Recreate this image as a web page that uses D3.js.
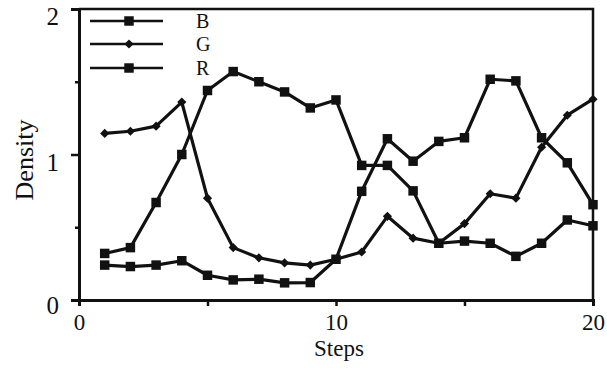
<!DOCTYPE html>
<html>
<head>
<meta charset="utf-8">
<script src="https://cdn.jsdelivr.net/npm/d3@7"></script>
<style>
  html, body { margin: 0; padding: 0; background: #fff; }
  svg { display: block; font-family: "Liberation Serif", "DejaVu Serif", serif; }
</style>
</head>
<body>
<svg width="607" height="368"></svg>
<script>
const steps = d3.range(1, 21);
const seriesB = [0.32, 0.36, 0.67, 1.0, 1.44, 1.57, 1.50, 1.43, 1.32, 1.375, 0.925, 0.925, 0.75, 0.39, 0.405, 0.39, 0.30, 0.39, 0.55, 0.51];
const seriesG = [1.145, 1.16, 1.195, 1.36, 0.70, 0.36, 0.29, 0.255, 0.24, 0.28, 0.33, 0.575, 0.425, 0.39, 0.525, 0.73, 0.70, 1.05, 1.27, 1.38];
const seriesR = [0.24, 0.23, 0.24, 0.27, 0.17, 0.138, 0.143, 0.118, 0.12, 0.28, 0.747, 1.108, 0.954, 1.09, 1.115, 1.517, 1.506, 1.115, 0.943, 0.655];
const legendNames = ["B", "G", "R"];
const xTicks = [0, 5, 10, 15, 20];
const yTicks = [0, 0.5, 1, 1.5, 2];

const svg = d3.select("svg");

const x = d3.scaleLinear().domain([0, 20]).range([79, 593]);
const y = d3.scaleLinear().domain([0, 2]).range([300, 9]);

const ink = "#111";

// frame (top and right)
svg.append("path")
    .attr("d", `M${x(0)},${y(2)}H${x(20)}V${y(0)}`)
    .attr("fill", "none")
    .attr("stroke", ink)
    .attr("stroke-width", 2.5);

// y axis
const yAxis = svg.append("g")
    .attr("transform", `translate(${x(0)},0)`)
    .call(d3.axisLeft(y).tickValues(yTicks).tickSize(8).tickPadding(12)
        .tickFormat(d => Number.isInteger(d) ? d : ""));
yAxis.select(".domain").attr("stroke", ink).attr("stroke-width", 3);
yAxis.selectAll(".tick line")
    .attr("stroke", ink).attr("stroke-width", 2.5)
    .attr("x2", d => Number.isInteger(d) ? -8 : -4);
yAxis.selectAll(".tick text")
    .attr("fill", ink)
    .style("font-size", "25px")
    .style("font-family", "Liberation Serif")
    .attr("dy", d => d === 0 ? "0.55em" : "0.62em");

// x axis
const xAxis = svg.append("g")
    .attr("transform", `translate(0,${y(0)})`)
    .call(d3.axisBottom(x).tickValues(xTicks).tickSize(6).tickPadding(8)
        .tickFormat(d => d % 10 === 0 ? d : ""));
xAxis.select(".domain").attr("stroke", ink).attr("stroke-width", 3);
xAxis.selectAll(".tick line").attr("stroke", ink).attr("stroke-width", 2.5);
xAxis.selectAll(".tick text")
    .attr("fill", ink)
    .style("font-size", "23px")
    .style("font-family", "Liberation Serif");

// axis titles
svg.append("text")
    .attr("transform", `translate(33,160) rotate(-90)`)
    .attr("text-anchor", "middle")
    .attr("fill", ink)
    .style("font-size", "26px")
    .text("Density");

svg.append("text")
    .attr("x", x(10) + 3)
    .attr("y", 356)
    .attr("text-anchor", "middle")
    .attr("fill", ink)
    .style("font-size", "23px")
    .text("Steps");

const line = d3.line()
    .x((d, i) => x(steps[i]))
    .y(d => y(d));

// diamonds are squares turned 45 degrees
const series = [
    { name: "B", values: seriesB, size: 90, rot: 0 },
    { name: "G", values: seriesG, size: 42, rot: 45 },
    { name: "R", values: seriesR, size: 90, rot: 0 }
];

series.forEach(s => {
    svg.append("path")
        .datum(s.values)
        .attr("d", line)
        .attr("fill", "none")
        .attr("stroke", ink)
        .attr("stroke-width", 3.2)
        .attr("stroke-linejoin", "round");

    svg.append("g")
        .selectAll("path")
        .data(s.values)
        .enter()
        .append("path")
        .attr("transform", (d, i) => `translate(${x(steps[i])},${y(d)}) rotate(${s.rot})`)
        .attr("d", d3.symbol().type(d3.symbolSquare).size(s.size))
        .attr("fill", ink);
});

// legend
const legend = svg.append("g");
const legendY = [21, 44, 68];
series.forEach((s, i) => {
    const g = legend.append("g").attr("transform", `translate(0,${legendY[i]})`);
    g.append("line")
        .attr("x1", 90).attr("x2", 163)
        .attr("stroke", ink).attr("stroke-width", 2.5);
    g.append("path")
        .attr("transform", `translate(129,0) rotate(${s.rot})`)
        .attr("d", d3.symbol().type(d3.symbolSquare).size(s.size))
        .attr("fill", ink);
    g.append("text")
        .attr("x", 196)
        .attr("dy", "0.35em")
        .attr("fill", ink)
        .style("font-size", "20px")
        .text(legendNames[i]);
});
</script>
</body>
</html>
